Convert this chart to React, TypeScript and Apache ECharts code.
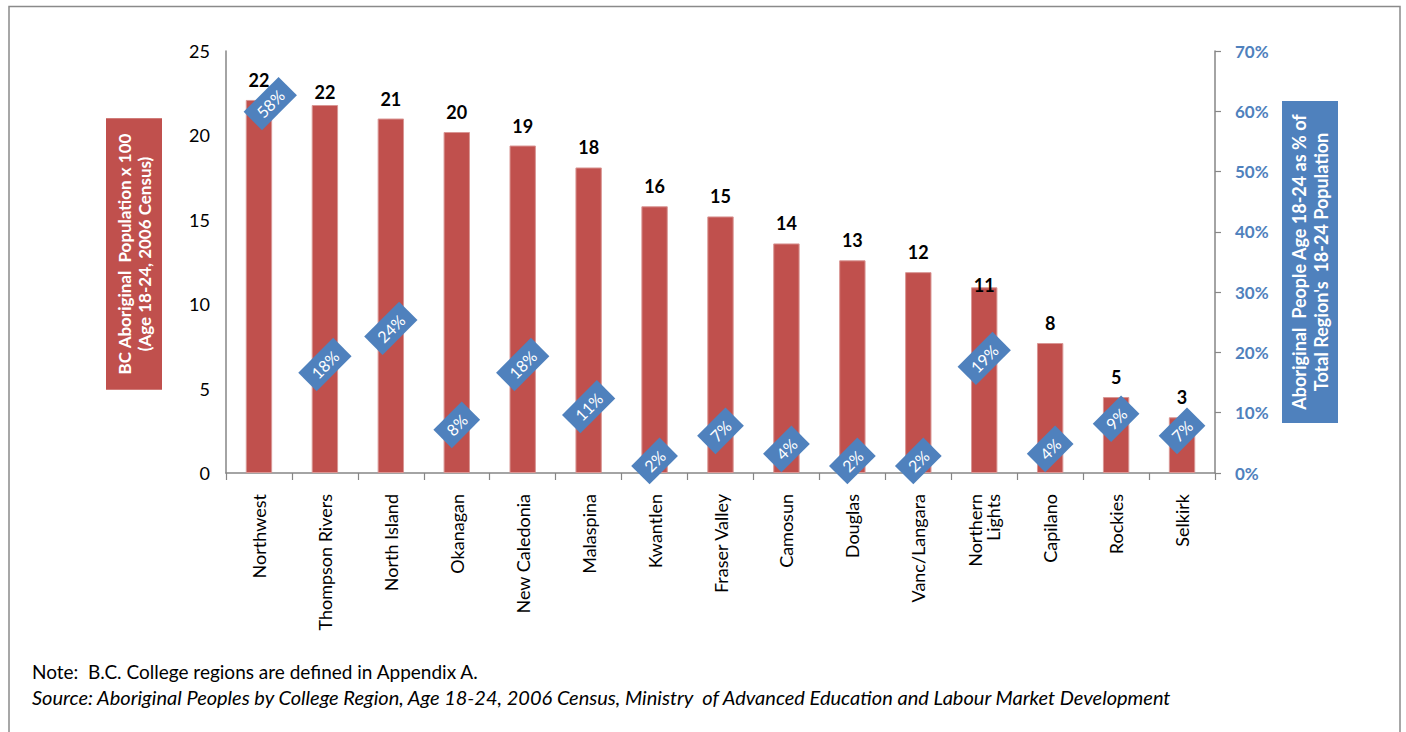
import React, { useEffect, useRef } from "react";
import * as echarts from "echarts";

const regions = [
  "Northwest",
  "Thompson Rivers",
  "North Island",
  "Okanagan",
  "New Caledonia",
  "Malaspina",
  "Kwantlen",
  "Fraser Valley",
  "Camosun",
  "Douglas",
  "Vanc/Langara",
  "Northern Lights",
  "Capilano",
  "Rockies",
  "Selkirk",
];
// BC Aboriginal population age 18-24 (x 100)
const populationX100 = [22.1, 21.8, 21.0, 20.2, 19.4, 18.1, 15.8, 15.2, 13.6, 12.6, 11.9, 11.0, 7.7, 4.5, 3.3];
// Aboriginal people 18-24 as % of region's 18-24 population
const sharePct = [58, 18, 24, 8, 18, 11, 2, 7, 4, 2, 2, 19, 4, 9, 7];
const leftMax = 25;
const leftStep = 5;
const rightMax = 70;
const rightStep = 10;

const leftTitle = "BC Aboriginal  Population x 100\n(Age 18-24, 2006 Census)";
const rightTitle = "Aboriginal  People Age 18-24 as % of\nTotal Region's  18-24 Population";
const noteText = "Note:  B.C. College regions are defined in Appendix A.";
const sourceText =
  "Source: Aboriginal Peoples by College Region, Age 18-24, 2006 Census, Ministry  of Advanced Education and Labour Market Development";

const FONT = "Lato, 'Noto Sans', sans-serif";
const RED = "#C0504D";
const BLUE = "#4F81BD";
const AXIS = "#868686";

export default function App() {
  const ref = useRef<HTMLDivElement>(null);
  useEffect(() => {
    if (!ref.current) return;
    const chart = echarts.init(ref.current, null, { renderer: "svg" });
    const barData = populationX100.map((v, i) => {
      const name = regions[i];
      let dy = 0;
      if (name === "Northern Lights") dy = 18;
      if (name === "Thompson Rivers") dy = 7;
      return dy ? { value: v, label: { offset: [0, dy] } } : v;
    });
    const shareData = sharePct.map((v, i) =>
      regions[i] === "Northwest" ? { value: v, label: { offset: [22, -6] } } : v
    );
    chart.setOption({
      animation: false,
      backgroundColor: "#fff",
      textStyle: { fontFamily: FONT },
      grid: { left: 226, right: 191, top: 51, bottom: 259, containLabel: false },
      xAxis: {
        type: "category",
        data: regions,
        axisLine: { lineStyle: { color: AXIS, width: 1.5 } },
        axisTick: { show: true, length: 7, lineStyle: { color: AXIS, width: 1.2 } },
        axisLabel: {
          interval: 0,
          rotate: 90,
          margin: 21,
          fontSize: 18,
          color: "#000",
          fontFamily: FONT,
          formatter: (v: string) => (v === "Northern Lights" ? "Northern\nLights" : v),
        },
        splitLine: { show: false },
      },
      yAxis: [
        {
          type: "value",
          min: 0,
          max: leftMax,
          interval: leftStep,
          axisLine: { show: true, lineStyle: { color: AXIS, width: 1.5 } },
          axisTick: { show: false },
          splitLine: { show: false },
          axisLabel: { fontSize: 18, color: "#000", margin: 16, fontFamily: FONT },
        },
        {
          type: "value",
          position: "right",
          min: 0,
          max: rightMax,
          interval: rightStep,
          axisLine: { show: true, lineStyle: { color: AXIS, width: 1.5 } },
          axisTick: { show: true, length: 6, lineStyle: { color: AXIS, width: 1.2 } },
          splitLine: { show: false },
          axisLabel: {
            formatter: "{value}%",
            color: BLUE,
            fontWeight: "bold",
            fontSize: 17,
            margin: 20,
            fontFamily: FONT,
          },
          name: rightTitle,
          nameLocation: "middle",
          nameRotate: 90,
          nameGap: 67,
          nameTextStyle: {
            color: "#fff",
            fontWeight: "bold",
            fontSize: 18,
            lineHeight: 22,
            fontFamily: FONT,
            backgroundColor: BLUE,
            padding: [6, 13, 6, 13],
            align: "center",
          },
        },
      ],
      series: [
        {
          type: "bar",
          data: barData,
          barWidth: "40%",
          itemStyle: { color: RED, borderColor: "#D99694", borderWidth: 1 },
          label: {
            show: true,
            position: "top",
            distance: 11,
            formatter: (p: any) => String(Math.round(p.value)),
            fontWeight: "bold",
            fontSize: 18,
            color: "#000",
            fontFamily: FONT,
          },
          z: 2,
        },
        {
          type: "scatter",
          yAxisIndex: 1,
          data: shareData,
          symbolSize: 1,
          itemStyle: { color: BLUE, opacity: 1 },
          label: {
            show: true,
            position: "inside",
            rotate: 45,
            formatter: "{c}%",
            backgroundColor: BLUE,
            color: "#fff",
            opacity: 1,
            padding: [5, 9],
            fontSize: 16,
            fontFamily: FONT,
          },
          emphasis: { disabled: true },
          z: 5,
        },
      ],
      graphic: [
        {
          type: "polyline",
          shape: { points: [[9, 732], [9, 6.5], [1400, 6.5], [1400, 732]] },
          style: { stroke: "#8A8A8A", lineWidth: 1.5, fill: "none" },
          silent: true,
        },
        {
          type: "text",
          x: 134,
          y: 254,
          rotation: Math.PI / 2,
          style: {
            text: leftTitle,
            align: "center",
            verticalAlign: "middle",
            fill: "#fff",
            fontWeight: "bold",
            fontSize: 17,
            lineHeight: 20,
            fontFamily: FONT,
            backgroundColor: RED,
            padding: [8, 15, 8, 15],
          },
          silent: true,
        },
        {
          type: "text",
          left: 32,
          top: 662,
          style: { text: noteText, fontSize: 19, fill: "#000", fontFamily: FONT },
        },
        {
          type: "text",
          left: 32,
          top: 687,
          style: { text: sourceText, fontSize: 20, fontStyle: "italic", fill: "#000", fontFamily: FONT },
        },
      ],
    });
    return () => chart.dispose();
  }, []);
  return (
    <div
      ref={ref}
      style={{ position: "absolute", left: 0, top: 0, width: 1406, height: 732 }}
    />
  );
}
